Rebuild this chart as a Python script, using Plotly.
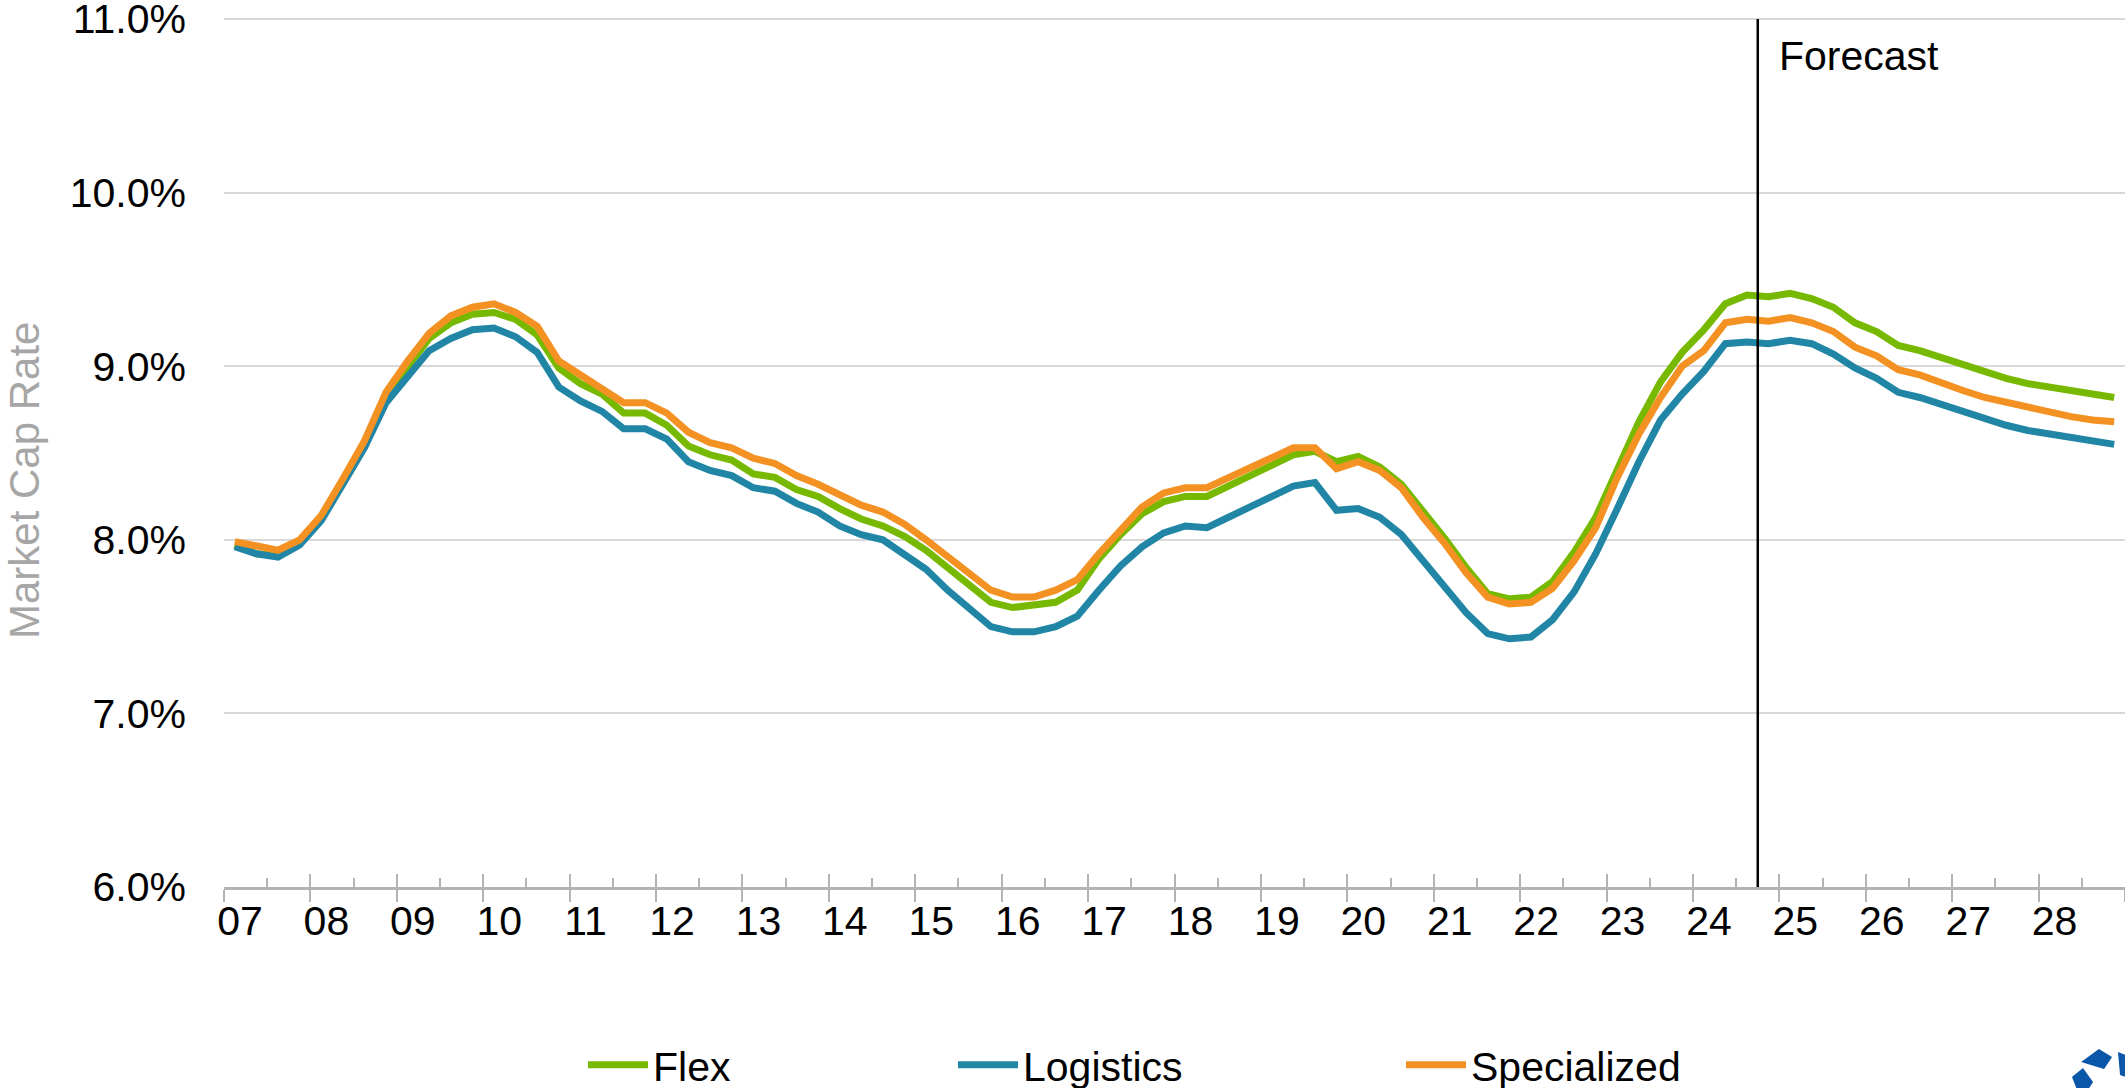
"""
Industrial market cap rate by subtype, quarterly 2007-2028 (forecast from 2024 Q4).
"""

import plotly.graph_objects as go


# ── Data (quarterly, 2007 Q1 → 2028 Q4, market cap rate in %) ─────────────────
START_YEAR = 2007
END_YEAR = 2028
FORECAST_FROM = "2024Q4"

flex = [
    7.97, 7.92, 7.91, 7.98, 8.13, 8.34, 8.56, 8.83, 9.00, 9.16, 9.25, 9.30,
    9.31, 9.27, 9.18, 8.99, 8.90, 8.84, 8.73, 8.73, 8.66, 8.54, 8.49, 8.46,
    8.38, 8.36, 8.29, 8.25, 8.18, 8.12, 8.08, 8.02, 7.94, 7.84, 7.74, 7.64,
    7.61, 7.63, 7.64, 7.71, 7.89, 8.03, 8.15, 8.22, 8.25, 8.25, 8.31, 8.37,
    8.43, 8.49, 8.51, 8.45, 8.48, 8.42, 8.32, 8.17, 8.01, 7.84, 7.69, 7.66,
    7.67, 7.76, 7.93, 8.13, 8.40, 8.68, 8.91, 9.08, 9.21, 9.36, 9.41, 9.40,
    9.42, 9.39, 9.34, 9.25, 9.20, 9.12, 9.09, 9.05, 9.00, 8.96, 8.93, 8.90,
    8.88, 8.85, 8.83, 8.82,
]
logistics = [
    7.96, 7.92, 7.90, 7.97, 8.11, 8.32, 8.53, 8.79, 8.94, 9.09, 9.16, 9.21,
    9.22, 9.17, 9.08, 8.88, 8.80, 8.74, 8.64, 8.64, 8.58, 8.45, 8.40, 8.37,
    8.30, 8.28, 8.21, 8.16, 8.08, 8.03, 8.00, 7.91, 7.83, 7.71, 7.60, 7.50,
    7.47, 7.47, 7.50, 7.56, 7.71, 7.85, 7.96, 8.04, 8.08, 8.07, 8.13, 8.19,
    8.24, 8.31, 8.33, 8.17, 8.18, 8.13, 8.03, 7.88, 7.73, 7.58, 7.46, 7.43,
    7.44, 7.54, 7.70, 7.92, 8.18, 8.45, 8.69, 8.84, 8.97, 9.13, 9.14, 9.13,
    9.15, 9.13, 9.07, 8.99, 8.93, 8.85, 8.82, 8.78, 8.73, 8.69, 8.66, 8.63,
    8.61, 8.58, 8.56, 8.55,
]
specialized = [
    7.99, 7.96, 7.94, 8.00, 8.14, 8.35, 8.57, 8.85, 9.03, 9.19, 9.29, 9.34,
    9.36, 9.31, 9.23, 9.03, 8.95, 8.88, 8.79, 8.79, 8.73, 8.62, 8.56, 8.53,
    8.47, 8.44, 8.37, 8.32, 8.26, 8.20, 8.16, 8.09, 8.00, 7.90, 7.80, 7.71,
    7.67, 7.67, 7.71, 7.77, 7.92, 8.06, 8.19, 8.27, 8.30, 8.30, 8.36, 8.42,
    8.47, 8.53, 8.53, 8.41, 8.45, 8.40, 8.30, 8.13, 7.98, 7.81, 7.67, 7.63,
    7.64, 7.72, 7.88, 8.07, 8.36, 8.61, 8.82, 9.00, 9.09, 9.25, 9.27, 9.26,
    9.28, 9.25, 9.20, 9.11, 9.06, 8.98, 8.95, 8.90, 8.86, 8.82, 8.79, 8.76,
    8.74, 8.71, 8.69, 8.68,
]

quarters = [f"{y}Q{q}" for y in range(START_YEAR, END_YEAR + 1) for q in range(1, 5)]
years = list(range(START_YEAR, END_YEAR + 2))
year_labels = [f"{y % 100:02d}" for y in years[:-1]] + [""]
y_ticks = [6, 7, 8, 9, 10, 11]
y_labels = [f"{v:.1f}%" for v in y_ticks]


def _qpos(label: str) -> float:
    """'2007Q1' -> 2007.125 (centre of the quarter on a yearly axis)."""
    y, q = label.split("Q")
    return int(y) + (int(q) - 0.5) / 4


x = [_qpos(q) for q in quarters]
forecast_x = _qpos(FORECAST_FROM) - 0.125

# ── Design tokens ─────────────────────────────────────────────────────────────
_GREEN = "#76B900"
_BLUE = "#2186A5"
_ORANGE = "#F39223"
_AXIS_GREY = "#B3B3B3"
_GRID = "#D9D9D9"
_LOGO = "#0A56A8"
_FONT = "Liberation Sans, Arial, sans-serif"
_FS = 41

W, H = 2125, 1088
M = dict(l=224, r=0, t=17, b=201)
Y_RANGE = [6, 11.012]


def _paper(px: float, py: float) -> tuple[float, float]:
    """Pixel position on the page -> paper coordinates."""
    pw = W - M["l"] - M["r"]
    ph = H - M["t"] - M["b"]
    return (px - M["l"]) / pw, (H - M["b"] - py) / ph


series = [
    ("Flex", flex, _GREEN, "legend"),
    ("Logistics", logistics, _BLUE, "legend2"),
    ("Specialized", specialized, _ORANGE, "legend3"),
]

fig = go.Figure()
for name, vals, colour, leg in series:
    fig.add_trace(go.Scatter(
        x=x, y=vals, name=name, mode="lines",
        line=dict(color=colour, width=7),
        legend=leg,
        hovertemplate="%{y:.2f}%<extra>" + name + "</extra>",
    ))

# empty trace so the overlay axis (inside tick marks) gets drawn
fig.add_trace(go.Scatter(x=[], y=[], xaxis="x2", showlegend=False, hoverinfo="skip"))

# ── Forecast divider ──────────────────────────────────────────────────────────
fig.add_shape(type="line", xref="x", yref="y",
              x0=forecast_x, x1=forecast_x, y0=6, y1=11,
              line=dict(color="#000000", width=2.5))
fig.add_annotation(x=forecast_x, y=_paper(0, 56)[1], xref="x", yref="paper",
                   text="Forecast", showarrow=False, xanchor="left", yanchor="middle",
                   xshift=19, font=dict(size=_FS, color="#000000"))

# ── Y title ───────────────────────────────────────────────────────────────────
tx, ty = _paper(24, 481)
fig.add_annotation(x=tx, y=ty, xref="paper", yref="paper",
                   text="Market Cap Rate", textangle=-90, showarrow=False,
                   xanchor="center", yanchor="middle",
                   font=dict(size=42, color="#A6A6A6"))

# ── Logo fragment, bottom-right corner ────────────────────────────────────────
for pts in ([(2081, 1062), (2099, 1049), (2112, 1057), (2104, 1069)],
            [(2072, 1077), (2083, 1068), (2093, 1082), (2088, 1090), (2077, 1090)],
            [(2118, 1052), (2126, 1055), (2126, 1077), (2120, 1075)]):
    d = "M" + " L".join(f"{a:.4f},{b:.4f}" for a, b in (_paper(px, py) for px, py in pts)) + " Z"
    fig.add_shape(type="path", path=d, xref="paper", yref="paper",
                  fillcolor=_LOGO, line=dict(width=0), layer="above")

_leg = dict(orientation="h", yanchor="middle", xanchor="left",
            xref="container", yref="container",
            bgcolor="rgba(0,0,0,0)", font=dict(size=_FS, color="#000000"),
            itemwidth=60)
ly = (H - 1065) / H

fig.update_layout(
    width=W, height=H,
    margin=M,
    paper_bgcolor="#FFFFFF",
    plot_bgcolor="#FFFFFF",
    font=dict(family=_FONT, size=_FS, color="#000000"),
    xaxis=dict(
        range=[START_YEAR, END_YEAR + 1], automargin=False,
        tickmode="array", tickvals=years, ticktext=year_labels,
        ticks="outside", ticklen=12, tickwidth=2, tickcolor=_AXIS_GREY,
        ticklabelshift=16, ticklabelstandoff=-16,
        showline=True, linecolor=_AXIS_GREY, linewidth=3,
        showgrid=False, zeroline=False,
        tickfont=dict(size=_FS, color="#000000"),
    ),
    xaxis2=dict(
        overlaying="x", anchor="y", side="bottom", automargin=False,
        range=[START_YEAR, END_YEAR + 1],
        tickmode="array", tickvals=years, showticklabels=False,
        ticks="inside", ticklen=13, tickwidth=2, tickcolor=_AXIS_GREY,
        minor=dict(tickmode="array", tickvals=[y + 0.5 for y in years[:-1]],
                   ticks="inside", ticklen=9, tickwidth=2, tickcolor=_AXIS_GREY),
        showgrid=False, zeroline=False, showline=False,
    ),
    yaxis=dict(
        range=Y_RANGE, automargin=False,
        tickmode="array", tickvals=y_ticks, ticktext=y_labels,
        ticks="", ticklabelstandoff=37, ticklabeloverflow="allow",
        showgrid=True, gridcolor=_GRID, gridwidth=2,
        showline=False, zeroline=False,
        tickfont=dict(size=_FS, color="#000000"),
    ),
    showlegend=True,
    legend=dict(**_leg, x=583 / W, y=ly),
    legend2=dict(**_leg, x=953 / W, y=ly),
    legend3=dict(**_leg, x=1401 / W, y=ly),
)

# the page body has a default 8px margin; drop it so the figure sits at 0,0
fig.write_html("out.html", config={"displayModeBar": False},
               post_script="document.body.style.margin='0';")
